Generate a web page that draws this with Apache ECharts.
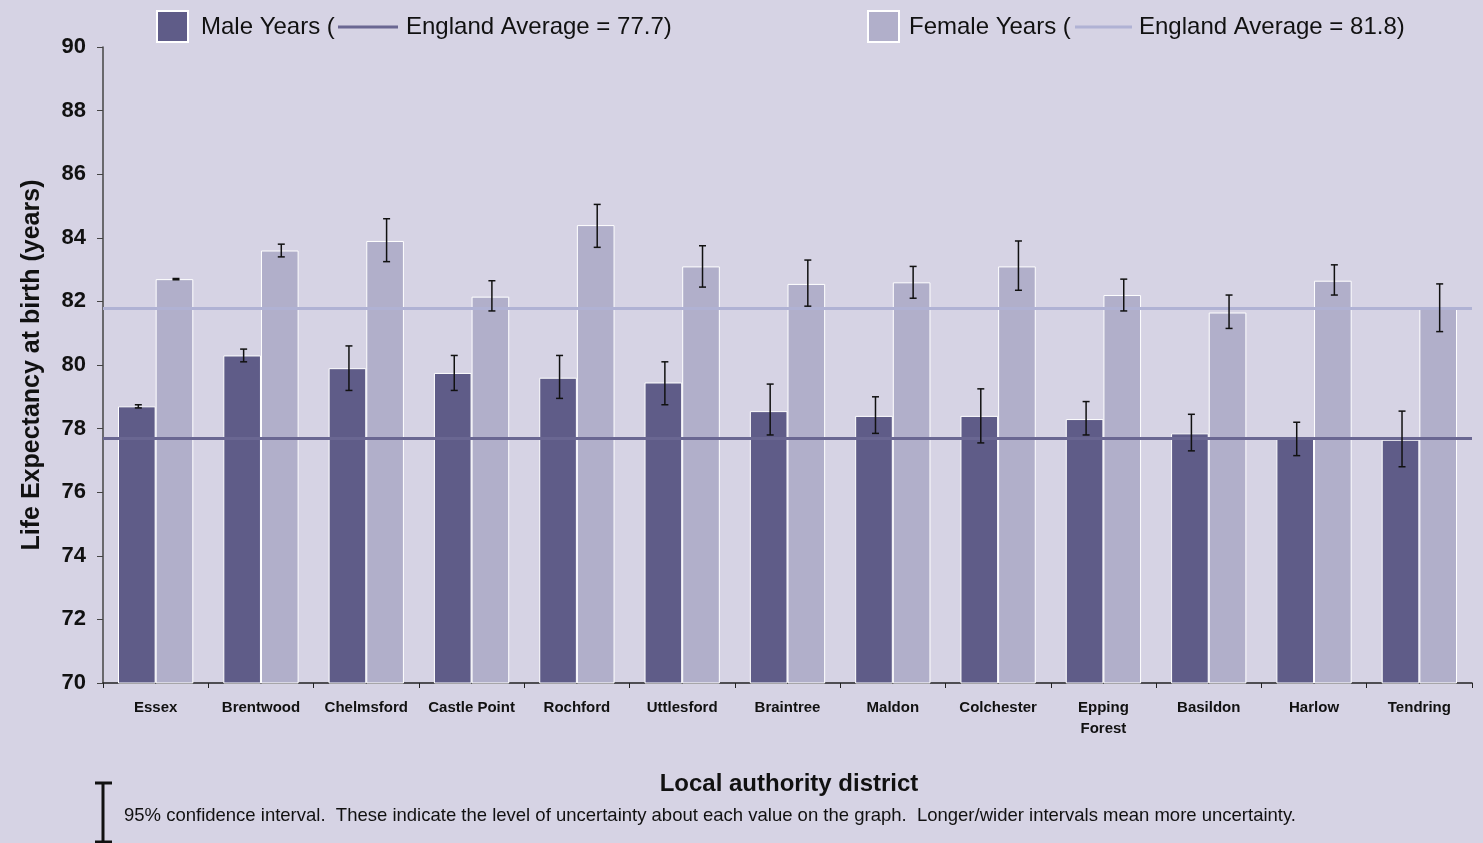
<!DOCTYPE html>
<html>
<head>
<meta charset="utf-8">
<script src="https://cdn.jsdelivr.net/npm/echarts@6/dist/echarts.min.js"></script>
<style>
html,body{margin:0;padding:0;background:#d6d3e4;}
#chart{width:1483px;height:843px;}
</style>
</head>
<body>
<div id="chart"></div>
<script>
const categories = ['Essex','Brentwood','Chelmsford','Castle Point','Rochford','Uttlesford','Braintree','Maldon','Colchester','Epping Forest','Basildon','Harlow','Tendring'];
const maleYears   = [78.7, 80.3, 79.9, 79.75, 79.6, 79.45, 78.55, 78.4, 78.4, 78.3, 77.85, 77.7, 77.65];
const maleLow     = [78.65, 80.1, 79.2, 79.2, 78.95, 78.75, 77.8, 77.85, 77.55, 77.8, 77.3, 77.15, 76.8];
const maleHigh    = [78.75, 80.5, 80.6, 80.3, 80.3, 80.1, 79.4, 79.0, 79.25, 78.85, 78.45, 78.2, 78.55];
const femaleYears = [82.7, 83.6, 83.9, 82.15, 84.4, 83.1, 82.55, 82.6, 83.1, 82.2, 81.65, 82.65, 81.8];
const femaleLow   = [82.68, 83.4, 83.25, 81.7, 83.7, 82.45, 81.85, 82.1, 82.35, 81.7, 81.15, 82.2, 81.05];
const femaleHigh  = [82.72, 83.8, 84.6, 82.65, 85.05, 83.75, 83.3, 83.1, 83.9, 82.7, 82.2, 83.15, 82.55];
const englandMale = 77.7;
const englandFemale = 81.8;

const MALE = '#5f5c88';
const FEMALE = '#b1afca';
const MALE_LINE = '#6a6792';
const FEMALE_LINE = '#b0b2d4';
const GAP = 0.285;
const FONT = '"Liberation Sans", Arial, sans-serif';

function errorRender(side) {
  return function (params, api) {
    const idx = api.value(0);
    const lo = api.coord([idx, api.value(1)]);
    const hi = api.coord([idx, api.value(2)]);
    const band = api.size([1, 0])[0];
    const off = band * (1 - GAP) / 4 * side;
    const x = lo[0] + off + 1.5;
    const cap = 3.5;
    const style = { stroke: '#111', lineWidth: 1.5 };
    return {
      type: 'group',
      children: [
        { type: 'line', shape: { x1: x, y1: hi[1], x2: x, y2: lo[1] }, style },
        { type: 'line', shape: { x1: x - cap, y1: hi[1], x2: x + cap, y2: hi[1] }, style },
        { type: 'line', shape: { x1: x - cap, y1: lo[1], x2: x + cap, y2: lo[1] }, style }
      ]
    };
  };
}

const chart = echarts.init(document.getElementById('chart'));
chart.setOption({
  backgroundColor: '#d6d3e4',
  animation: false,
  textStyle: { fontFamily: FONT },
  grid: { left: 103, right: 11, top: 47, bottom: 160, containLabel: false },
  xAxis: {
    type: 'category',
    data: categories,
    axisLine: { lineStyle: { color: '#222', width: 1.5 } },
    axisTick: { show: true, length: 5, lineStyle: { color: '#222' } },
    axisLabel: {
      fontFamily: FONT, fontWeight: 'bold', fontSize: 15, color: '#111', margin: 14, lineHeight: 21,
      interval: 0,
      formatter: v => v === 'Epping Forest' ? 'Epping\nForest' : v
    }
  },
  yAxis: {
    type: 'value',
    min: 70, max: 90, interval: 2,
    name: 'Life Expectancy at birth (years)',
    nameLocation: 'middle',
    nameGap: 58,
    nameTextStyle: { fontFamily: FONT, fontWeight: 'bold', fontSize: 25, color: '#111' },
    axisLine: { show: true, lineStyle: { color: '#444', width: 1.5 } },
    axisTick: { show: true, length: 6, lineStyle: { color: '#444' } },
    axisLabel: { fontFamily: FONT, fontWeight: 'bold', fontSize: 22, color: '#111', margin: 17 },
    splitLine: { show: false }
  },
  series: [
    {
      name: 'Male Years', type: 'bar', data: maleYears,
      barGap: '0%', barCategoryGap: (GAP * 100) + '%',
      itemStyle: { color: MALE, borderColor: '#ffffff', borderWidth: 1 },
      z: 2,
      markLine: {
        silent: true, symbol: 'none', label: { show: false },
        lineStyle: { color: MALE_LINE, width: 3, type: 'solid' },
        data: [{ yAxis: englandMale }], z: 3
      }
    },
    {
      name: 'Female Years', type: 'bar', data: femaleYears,
      itemStyle: { color: FEMALE, borderColor: '#ffffff', borderWidth: 1 },
      z: 2,
      markLine: {
        silent: true, symbol: 'none', label: { show: false },
        lineStyle: { color: FEMALE_LINE, width: 3, type: 'solid' },
        data: [{ yAxis: englandFemale }], z: 3
      }
    },
    {
      type: 'custom', name: 'Male CI', z: 10,
      renderItem: errorRender(-1),
      encode: { x: 0, y: [1, 2] },
      data: categories.map((c, i) => [i, maleLow[i], maleHigh[i]])
    },
    {
      type: 'custom', name: 'Female CI', z: 10,
      renderItem: errorRender(1),
      encode: { x: 0, y: [1, 2] },
      data: categories.map((c, i) => [i, femaleLow[i], femaleHigh[i]])
    }
  ],
  graphic: [
    { type: 'rect', left: 156, top: 10, shape: { width: 31, height: 31 }, style: { fill: MALE, stroke: '#fff', lineWidth: 2 } },
    { type: 'text', x: 201, y: 27, style: { text: 'Male Years (', font: '24px ' + FONT, fill: '#111', verticalAlign: 'middle' } },
    { type: 'line', shape: { x1: 338, y1: 27, x2: 398, y2: 27 }, style: { stroke: MALE_LINE, lineWidth: 3 } },
    { type: 'text', x: 406, y: 27, style: { text: 'England Average = 77.7)', font: '24px ' + FONT, fill: '#111', verticalAlign: 'middle' } },
    { type: 'rect', left: 867, top: 10, shape: { width: 31, height: 31 }, style: { fill: FEMALE, stroke: '#fff', lineWidth: 2 } },
    { type: 'text', x: 909, y: 27, style: { text: 'Female Years (', font: '24px ' + FONT, fill: '#111', verticalAlign: 'middle' } },
    { type: 'line', shape: { x1: 1075, y1: 27, x2: 1132, y2: 27 }, style: { stroke: FEMALE_LINE, lineWidth: 3 } },
    { type: 'text', x: 1139, y: 27, style: { text: 'England Average = 81.8)', font: '24px ' + FONT, fill: '#111', verticalAlign: 'middle' } },
    { type: 'text', x: 789, y: 784, style: { text: 'Local authority district', font: 'bold 24px ' + FONT, fill: '#111', align: 'center', verticalAlign: 'middle' } },
    { type: 'line', shape: { x1: 103, y1: 783, x2: 103, y2: 842 }, style: { stroke: '#111', lineWidth: 3 } },
    { type: 'line', shape: { x1: 95, y1: 783, x2: 112, y2: 783 }, style: { stroke: '#111', lineWidth: 3 } },
    { type: 'line', shape: { x1: 95, y1: 842, x2: 112, y2: 842 }, style: { stroke: '#111', lineWidth: 3 } },
    { type: 'text', x: 124, y: 816, style: { text: '95% confidence interval.  These indicate the level of uncertainty about each value on the graph.  Longer/wider intervals mean more uncertainty.', font: '18.5px ' + FONT, fill: '#111', verticalAlign: 'middle' } }
  ]
});
</script>
</body>
</html>
